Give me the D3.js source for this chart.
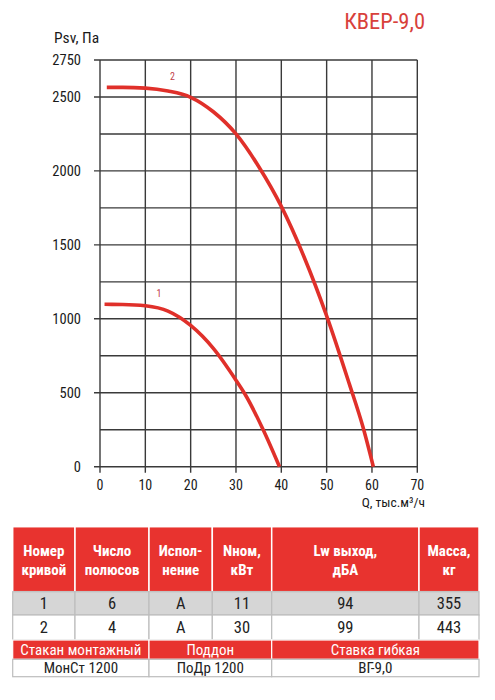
<!DOCTYPE html>
<html><head><meta charset="utf-8">
<script src="https://cdn.jsdelivr.net/npm/d3@7"></script>
<style>
html,body{margin:0;padding:0;background:#fff;}
svg{display:block;}
text{font-family:"Liberation Sans Narrow","Roboto Condensed","Arial Narrow",Roboto,sans-serif;}
</style></head>
<body>
<script>
// ---- data ----
const title = "КВЕР-9,0";
const yAxisTitle = "Psv, Па";
const xAxisTitle = "Q, тыс.м³/ч";
const xTicks = [0,10,20,30,40,50,60,70];
const yGrid = [0,250,500,750,1000,1250,1500,1750,2000,2250,2500,2750];
const yTickLabels = [0,500,1000,1500,2000,2500,2750];
const curve1Q = [1, 5, 10, 15, 20, 25, 30, 32, 36, 39.6];
const curve1P = [1098, 1097, 1088, 1052, 955, 800, 585, 490, 250, 0];
const curve2Q = [1.5, 5, 10, 15, 20, 25, 30, 35, 40, 45, 50, 55, 58, 60.3];
const curve2P = [2565, 2565, 2560, 2540, 2498, 2400, 2250, 2030, 1760, 1420, 1020, 560, 270, 0];
const curveLabels = ["1","2"];
const curveLabelQ = [13, 16];
const curveLabelP = [1150, 2615];

const headerLine1 = ["Номер","Число","Испол-","Nном,","Lw выход,","Масса,"];
const headerLine2 = ["кривой","полюсов","нение","кВт","дБА","кг"];
const row1 = ["1","6","A","11","94","355"];
const row2 = ["2","4","A","30","99","443"];
const accHeader = ["Стакан монтажный","Поддон","Ставка гибкая"];
const accValues = ["МонСт 1200","ПоДр 1200","ВГ-9,0"];

// ---- layout ----
const W = 495, H = 700;
const RED = "#e8332f", CURVE = "#e0302a", GRID = "#3a3a3a";
const svg = d3.select("body").append("svg").attr("width", W).attr("height", H);

const x = d3.scaleLinear().domain([0,70]).range([100, 417.3]);
const y = d3.scaleLinear().domain([0,2750]).range([466.7, 60]);

// titles
svg.append("text").attr("x", 425).attr("y", 28.5).attr("text-anchor","end")
  .attr("font-size", 22.5).attr("fill", "#d8413b").text(title);
svg.append("text").attr("x", 54).attr("y", 43).attr("font-size", 15.5)
  .attr("fill","#1a1a1a").text(yAxisTitle);
svg.append("text").attr("x", 425).attr("y", 507).attr("text-anchor","end").attr("font-size", 13.5)
  .attr("fill","#1a1a1a").text(xAxisTitle);

// grid
const g = svg.append("g");
g.selectAll("line.h").data(yGrid).join("line").attr("class","h")
  .attr("x1", d => yTickLabels.includes(d) ? x(0) - 6 : x(0)).attr("x2", x(70))
  .attr("y1", d => y(d)).attr("y2", d => y(d))
  .attr("stroke", GRID).attr("stroke-width", 1.4);
g.selectAll("line.v").data(xTicks).join("line").attr("class","v")
  .attr("x1", d => x(d)).attr("x2", d => x(d))
  .attr("y1", y(2750)).attr("y2", y(0) + 6)
  .attr("stroke", GRID).attr("stroke-width", 1.4);

// axis labels
g.selectAll("text.yl").data(yTickLabels).join("text").attr("class","yl")
  .attr("x", 81).attr("y", d => y(d)).attr("dy","0.36em").attr("text-anchor","end")
  .attr("font-size", 14.5).attr("fill","#1a1a1a").text(d => d);
g.selectAll("text.xl").data(xTicks).join("text").attr("class","xl")
  .attr("x", d => x(d)).attr("y", 489.5).attr("text-anchor","middle")
  .attr("font-size", 14).attr("fill","#1a1a1a").text(d => d);

// curves
const line = d3.line().x(d => x(d[0])).y(d => y(d[1])).curve(d3.curveMonotoneX);
[[curve1Q, curve1P],[curve2Q, curve2P]].forEach(([q,p]) => {
  svg.append("path").attr("d", line(q.map((v,i)=>[v,p[i]])))
    .attr("fill","none").attr("stroke", CURVE).attr("stroke-width", 3.6).attr("stroke-linecap","butt");
});
svg.selectAll("text.cl").data(curveLabels).join("text").attr("class","cl")
  .attr("x", (d,i) => x(curveLabelQ[i])).attr("y", (d,i) => y(curveLabelP[i]))
  .attr("text-anchor","middle").attr("font-size", 10).attr("fill","#c0404a").text(d => d);

// ---- table ----
const colX = [12.7, 75, 149, 212.3, 271.7, 419, 479];
const rowY = [526.7, 591.7, 615, 640, 659.3, 676.7];
const accX = [12.7, 149, 271.7, 479];
const t = svg.append("g");
const BORDER = "#bdbdbd";

// header
t.selectAll("rect.hd").data(headerLine1).join("rect").attr("class","hd")
  .attr("x", (d,i)=>colX[i]).attr("y", rowY[0]).attr("width", (d,i)=>colX[i+1]-colX[i]).attr("height", rowY[1]-rowY[0])
  .attr("fill", RED).attr("stroke","#fff").attr("stroke-width", 1.5);
t.selectAll("text.h1").data(headerLine1).join("text").attr("class","h1")
  .attr("x",(d,i)=>(colX[i]+colX[i+1])/2).attr("y", 555.5).attr("text-anchor","middle")
  .attr("font-size", 15).attr("font-weight","bold").attr("fill","#fff").text(d=>d);
t.selectAll("text.h2").data(headerLine2).join("text").attr("class","h2")
  .attr("x",(d,i)=>(colX[i]+colX[i+1])/2).attr("y", 575).attr("text-anchor","middle")
  .attr("font-size", 15).attr("font-weight","bold").attr("fill","#fff").text(d=>d);

// data rows
[row1,row2].forEach((row, r) => {
  t.selectAll("rect.r"+r).data(row).join("rect").attr("class","r"+r)
    .attr("x",(d,i)=>colX[i]).attr("y", rowY[1+r]).attr("width",(d,i)=>colX[i+1]-colX[i]).attr("height", rowY[2+r]-rowY[1+r])
    .attr("fill", r===0 ? "#d6d6d6" : "#fff").attr("stroke", BORDER).attr("stroke-width", 1.2);
  t.selectAll("text.r"+r).data(row).join("text").attr("class","r"+r)
    .attr("x",(d,i)=>(colX[i]+colX[i+1])/2).attr("y", (rowY[1+r]+rowY[2+r])/2).attr("dy","0.36em")
    .attr("text-anchor","middle").attr("font-size", 16.5).attr("fill","#222").text(d=>d);
});

// accessories
t.selectAll("rect.ah").data(accHeader).join("rect").attr("class","ah")
  .attr("x",(d,i)=>accX[i]).attr("y", rowY[3]).attr("width",(d,i)=>accX[i+1]-accX[i]).attr("height", rowY[4]-rowY[3])
  .attr("fill", RED).attr("stroke","#fff").attr("stroke-width", 1.2);
t.selectAll("text.ah").data(accHeader).join("text").attr("class","ah")
  .attr("x",(d,i)=>(accX[i]+accX[i+1])/2).attr("y",(rowY[3]+rowY[4])/2).attr("dy","0.36em")
  .attr("text-anchor","middle").attr("font-size", 15).attr("fill","#fff").text(d=>d);
t.selectAll("rect.av").data(accValues).join("rect").attr("class","av")
  .attr("x",(d,i)=>accX[i]).attr("y", rowY[4]).attr("width",(d,i)=>accX[i+1]-accX[i]).attr("height", rowY[5]-rowY[4])
  .attr("fill", "#fff").attr("stroke", BORDER).attr("stroke-width", 1.2);
t.selectAll("text.av").data(accValues).join("text").attr("class","av")
  .attr("x",(d,i)=>(accX[i]+accX[i+1])/2).attr("y",(rowY[4]+rowY[5])/2).attr("dy","0.36em")
  .attr("text-anchor","middle").attr("font-size", 15).attr("fill","#222").text(d=>d);
</script>
</body></html>
